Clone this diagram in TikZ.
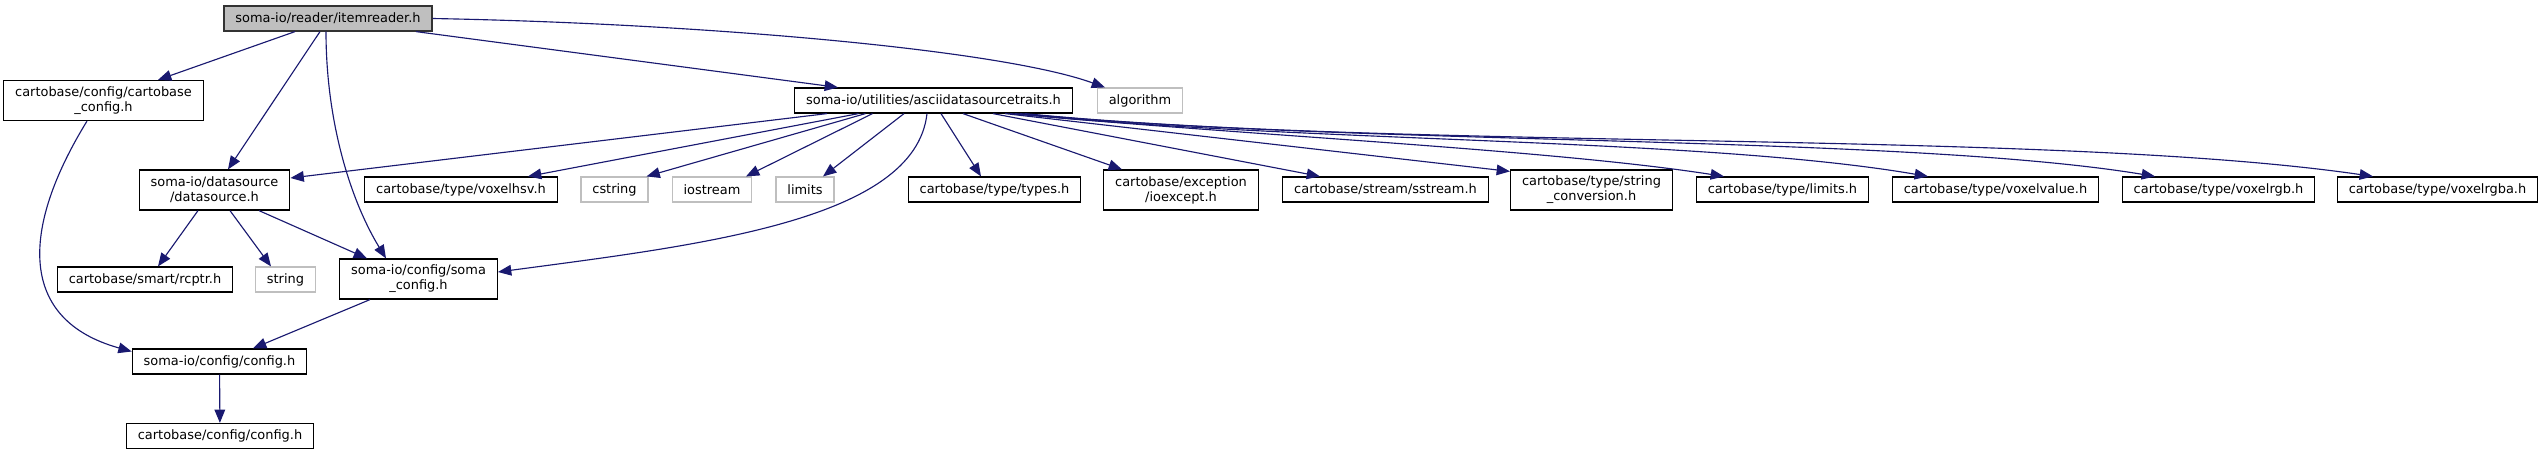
\documentclass[tikz,border=0pt]{standalone}
\usepackage{fontspec}
\setmainfont{DejaVu Sans}
\usetikzlibrary{arrows.meta}
\definecolor{depblue}{HTML}{191970}
\definecolor{sysgray}{HTML}{BFBFBF}

\begin{document}
\begin{tikzpicture}[->,>={Triangle[length=10pt,width=8pt]},x=0.75pt,y=-0.75pt,
        file node/.style={rectangle,draw=black,line width=0.9pt,fill=white,align=center,
          font=\fontsize{9.7}{11.3}\selectfont,inner xsep=8.6pt,inner ysep=2pt,minimum height=18.75pt},
        sys node/.style={file node,draw=sysgray},
        root node/.style={file node,fill=sysgray,draw=black!80},
        two lines/.style={minimum height=30pt},
        dep line/.style={depblue,line width=0.85pt}]

      \useasboundingbox (0,0) rectangle (2542,455);

      \node[root node] (1) at (328,18.5) {soma-io/reader/itemreader.h};
      \node[file node,two lines] (2) at (103.5,100.5) {cartobase/config/cartobase\\\_config.h};
      \node[file node,two lines] (3) at (214.5,190) {soma-io/datasource\\/datasource.h};
      \node[file node] (4) at (933.5,100.5) {soma-io/utilities/asciidatasourcetraits.h};
      \node[sys node] (5) at (1140,100.5) {algorithm};
      \node[file node] (6) at (461,189.5) {cartobase/type/voxelhsv.h};
      \node[sys node] (7) at (614.5,189.5) {cstring};
      \node[sys node] (8) at (712,189.5) {iostream};
      \node[sys node] (9) at (805,189.5) {limits};
      \node[file node] (10) at (994.5,189.5) {cartobase/type/types.h};
      \node[file node,two lines] (11) at (1181,190) {cartobase/exception\\/ioexcept.h};
      \node[file node] (12) at (1385.5,189.5) {cartobase/stream/sstream.h};
      \node[file node,two lines] (13) at (1591.5,190) {cartobase/type/string\\\_conversion.h};
      \node[file node] (14) at (1782.5,189.5) {cartobase/type/limits.h};
      \node[file node] (15) at (1995.5,189.5) {cartobase/type/voxelvalue.h};
      \node[file node] (16) at (2218.5,189.5) {cartobase/type/voxelrgb.h};
      \node[file node] (17) at (2437.5,189.5) {cartobase/type/voxelrgba.h};
      \node[file node] (18) at (145,279.5) {cartobase/smart/rcptr.h};
      \node[sys node] (19) at (285.5,279.5) {string};
      \node[file node,two lines] (20) at (418.5,279) {soma-io/config/soma\\\_config.h};
      \node[file node] (21) at (219.5,361.5) {soma-io/config/config.h};
      \node[file node] (22) at (220,436) {cartobase/config/config.h};

      % straight includes
      \path[dep line]
      ([shift={(-33,0)}]1.south) edge ([shift={(54.5,0)}]2.north)
      ([shift={(-8,0)}]1.south) edge ([shift={(13.5,0)}]3.north)
      ([shift={(88,0)}]1.south) edge ([shift={(-95.5,0)}]4.north)
      ([shift={(-16.5,0)}]3.south) edge ([shift={(13,0)}]18.north)
      ([shift={(15.5,0)}]3.south) edge ([shift={(-14.5,0)}]19.north)
      ([shift={(44.5,0)}]3.south) edge ([shift={(-51.5,0)}]20.north)
      ([shift={(-48.5,0)}]20.south) edge ([shift={(33.5,0)}]21.north)
      (21) edge (22)
      ([shift={(-106.5,0)}]4.south) edge ([shift={(0,-12)}]3.east)
      ([shift={(-75,0)}]4.south) edge ([shift={(67,0)}]6.north)
      ([shift={(-68,0)}]4.south) edge ([shift={(32,0)}]7.north)
      ([shift={(-61,0)}]4.south) edge ([shift={(34,0)}]8.north)
      ([shift={(-29.5,0)}]4.south) edge ([shift={(18,0)}]9.north)
      ([shift={(7.5,0)}]4.south) edge ([shift={(-13.5,0)}]10.north)
      ([shift={(29.5,0)}]4.south) edge ([shift={(-59,0)}]11.north)
      ([shift={(59.5,0)}]4.south) edge ([shift={(-65.5,0)}]12.north)
      ([shift={(71.5,0)}]4.south) edge ([shift={(0,2)}]13.north west);

      % curved includes
      \draw[dep line] ([shift={(-2,0)}]1.south) .. controls +(0,89) and +(-36,-59) .. ([shift={(-32.5,0)}]20.north);
      \draw[dep line] (1.east) .. controls +(268,5) and +(-105,-38) .. ([shift={(-35,0)}]5.north);
      \draw[dep line] ([shift={(-16.5,0)}]2.south) .. controls +(-67,109) and +(-113,-31.5) .. ([shift={(0,-10)}]21.west);
      \draw[dep line] ([shift={(-6.5,0)}]4.south) .. controls +(-12,107) and +(202,-27) .. ([shift={(0,-7)}]20.east);
      \draw[dep line] ([shift={(76.5,0)}]4.south) .. controls +(240,22) and +(-174,-27) .. ([shift={(-58.5,0)}]14.north);
      \draw[dep line] ([shift={(81.5,0)}]4.south) .. controls +(285,29) and +(-228,-39) .. ([shift={(-67.5,0)}]15.north);
      \draw[dep line] ([shift={(86.5,0)}]4.south) .. controls +(330,32) and +(-255,-42) .. ([shift={(-63.5,0)}]16.north);
      \draw[dep line] ([shift={(91.5,0)}]4.south) .. controls +(375,37) and +(-323,-47) .. ([shift={(-64.5,0)}]17.north);
      \end{tikzpicture}
\end{document}
